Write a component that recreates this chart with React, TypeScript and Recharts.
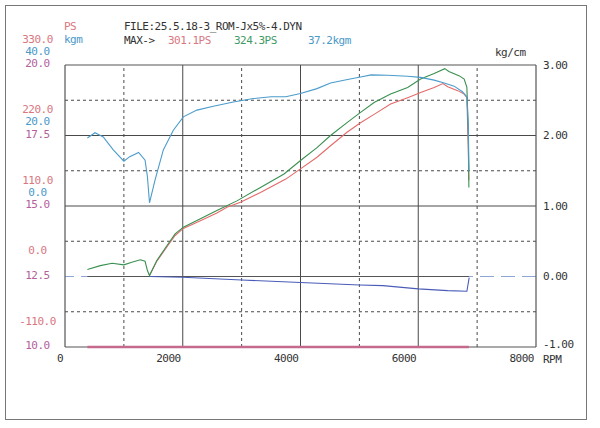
import React from 'react';
import { ComposedChart, Line, XAxis, YAxis, ReferenceLine } from 'recharts';

const FONT = '"DejaVu Sans Mono", "Liberation Mono", monospace';
const PINK = '#d9777f';
const BLUE = '#4a98c8';
const GREEN = '#3f9a66';
const PURPLE = '#b2619c';
const GRID = '#4a4a4a';

const rpmTicks = [0, 2000, 4000, 6000, 8000];
const psTicks = [-110, 0, 110, 220, 330];
const kgmTicks = [0, 20, 40];
const afrTicks = [10, 12.5, 15, 17.5, 20];
const boostTicks = [-1, 0, 1, 2, 3];

const gridRpmSolid = [2000, 4000, 6000];
const gridRpmDotted = [1000, 3000, 5000, 7000];
const gridBoostSolid = [2, 1];
const gridBoostDotted = [2.5, 1.5, 0.5, -0.5];

const greenRpm = [380, 600, 800, 1000, 1135, 1280, 1360, 1400, 1435, 1560, 1730, 1870, 2010, 2300, 2580, 2920, 3320, 3720, 4000, 4280, 4510, 4790, 5020, 5250, 5530, 5820, 6040, 6270, 6450, 6520, 6700, 6780, 6826, 6848, 6860];
const greenPs = [11, 17, 20.7, 18.2, 22.3, 26, 23.8, 9.3, 1.5, 25, 48, 66.5, 77, 90, 103, 118, 139, 160, 181, 201, 220, 240, 256, 271.5, 284.6, 295, 308, 316.7, 324.3, 320, 313, 308, 295, 232, 139];

const redRpm = [1435, 1560, 1730, 1870, 2010, 2300, 2580, 2750, 2980, 3320, 3750, 4000, 4280, 4510, 4790, 5020, 5250, 5530, 5820, 6040, 6270, 6420, 6500, 6670, 6780, 6826, 6850, 6860];
const redPs = [1.5, 24, 46, 64, 75, 87, 99, 108, 115.7, 131, 152, 168, 186, 204, 225, 240, 253, 269, 279, 287, 295, 301.1, 296, 290, 284.6, 279, 200, 150];

const kgmRpm = [380, 510, 650, 820, 1000, 1100, 1250, 1360, 1400, 1435, 1530, 1670, 1840, 2010, 2240, 2520, 2860, 3200, 3500, 3750, 4000, 4280, 4510, 4800, 5020, 5200, 5480, 5820, 6040, 6270, 6440, 6610, 6750, 6826, 6850, 6862];
const kgmValues = [19.3, 20.8, 19.6, 15.9, 12.7, 14.0, 15.2, 13.0, 8.3, 0.9, 7.4, 15.9, 21.5, 25.3, 27.2, 28.3, 29.5, 30.5, 31.0, 31.0, 31.9, 33.3, 34.9, 35.9, 36.6, 37.2, 37.1, 36.8, 36.5, 35.7, 34.9, 34.0, 32.4, 31.0, 22.5, 10];

const boostRpm = [1435, 2000, 3000, 4000, 5000, 5400, 6000, 6500, 6826, 6865];
const boostValues = [0, -0.01, -0.05, -0.085, -0.12, -0.13, -0.175, -0.2, -0.21, -0.015];

const afrRpm = [380, 6860];
const afrValues = [10, 10];

const toPoints = (xs: number[], ys: number[], key: string) =>
  xs.map((rpm, i) => ({ rpm, [key]: ys[i] }));

const greenData = toPoints(greenRpm, greenPs, 'ps');
const redData = toPoints(redRpm, redPs, 'ps');
const kgmData = toPoints(kgmRpm, kgmValues, 'kgm');
const boostData = toPoints(boostRpm, boostValues, 'boost');
const afrData = toPoints(afrRpm, afrValues, 'afr');

const txt = { fontSize: 11, fontFamily: FONT, letterSpacing: -0.5 };

const psTick = ({ y, payload }: any) => (
  <text x={37.5} y={y - 26} textAnchor="middle" dominantBaseline="central" fill={PINK} {...txt}>
    {Number(payload.value).toFixed(1)}
  </text>
);
const kgmTick = ({ y, payload }: any) => (
  <text x={37.5} y={y - 14} textAnchor="middle" dominantBaseline="central" fill={BLUE} {...txt}>
    {Number(payload.value).toFixed(1)}
  </text>
);
const afrTick = ({ y, payload }: any) => (
  <text x={37.5} y={y - 1.5} textAnchor="middle" dominantBaseline="central" fill={PURPLE} {...txt}>
    {Number(payload.value).toFixed(1)}
  </text>
);
// bottom label sits a little higher so it clears "RPM"
const boostTick = ({ y, payload }: any) => (
  <text x={543} y={payload.value === -1 ? y - 3 : y} textAnchor="start" dominantBaseline="central" fill="#333" {...txt}>
    {Number(payload.value).toFixed(2)}
  </text>
);
const rpmTick = ({ x, payload }: any) => (
  <text x={x - 2} y={358} textAnchor="end" dominantBaseline="central" fill="#333" {...txt}>
    {payload.value}
  </text>
);

export default function App() {
  return (
    <div style={{ position: 'absolute', left: 0, top: 0, width: 600, height: 428, background: '#fff' }}>
      <div style={{ position: 'absolute', left: 5, top: 5, width: 580, height: 413, border: '1px solid #777' }} />
      <ComposedChart
        width={600}
        height={428}
        margin={{ top: 65, right: 0, bottom: 0, left: 0 }}
        style={{ position: 'absolute', left: 0, top: 0 }}
      >
        <XAxis
          xAxisId="rpm"
          dataKey="rpm"
          type="number"
          domain={[0, 8000]}
          ticks={rpmTicks}
          interval={0}
          height={81}
          axisLine={false}
          tickLine={false}
          tick={rpmTick}
          allowDataOverflow
        />
        <YAxis yAxisId="ps" type="number" domain={[-110, 330]} ticks={psTicks} interval={0} width={25} axisLine={false} tickLine={false} tick={psTick} />
        <YAxis yAxisId="kgm" type="number" domain={[-40, 40]} ticks={kgmTicks} interval={0} width={20} axisLine={false} tickLine={false} tick={kgmTick} />
        <YAxis yAxisId="afr" type="number" domain={[10, 20]} ticks={afrTicks} interval={0} width={20} axisLine={false} tickLine={false} tick={afrTick} />
        <YAxis yAxisId="boost" orientation="right" type="number" domain={[-1, 3]} ticks={boostTicks} interval={0} width={64} axisLine={false} tickLine={false} tick={boostTick} />

        {gridBoostDotted.map((v) => (
          <ReferenceLine key={`hd${v}`} xAxisId="rpm" yAxisId="boost" y={v} stroke={GRID} strokeDasharray="3 3" />
        ))}
        {gridRpmDotted.map((v) => (
          <ReferenceLine key={`vd${v}`} xAxisId="rpm" yAxisId="boost" x={v} stroke={GRID} strokeDasharray="3 3" />
        ))}
        {gridBoostSolid.map((v) => (
          <ReferenceLine key={`hs${v}`} xAxisId="rpm" yAxisId="boost" y={v} stroke={GRID} />
        ))}
        {gridRpmSolid.map((v) => (
          <ReferenceLine key={`vs${v}`} xAxisId="rpm" yAxisId="boost" x={v} stroke={GRID} />
        ))}
        <ReferenceLine xAxisId="rpm" yAxisId="boost" y={0} stroke="#8ea6d6" strokeWidth={1.2} strokeDasharray="14 7" />
        <ReferenceLine
          xAxisId="rpm"
          yAxisId="boost"
          segment={[{ x: 380, y: 0 }, { x: 6860, y: 0 }]}
          stroke="#555"
        />
        <ReferenceLine xAxisId="rpm" yAxisId="boost" y={3} stroke="#555" strokeWidth={1.2} />
        <ReferenceLine xAxisId="rpm" yAxisId="boost" y={-1} stroke="#555" strokeWidth={1.2} />
        <ReferenceLine xAxisId="rpm" yAxisId="boost" x={0} stroke="#555" strokeWidth={1.2} />
        <ReferenceLine xAxisId="rpm" yAxisId="boost" x={8000} stroke="#555" strokeWidth={1.2} />

        <Line xAxisId="rpm" yAxisId="afr" data={afrData} dataKey="afr" stroke="#c46a8c" strokeWidth={2.5} dot={false} isAnimationActive={false} />
        <Line xAxisId="rpm" yAxisId="boost" data={boostData} dataKey="boost" stroke="#4a5cb8" strokeWidth={1.1} dot={false} isAnimationActive={false} />
        <Line xAxisId="rpm" yAxisId="ps" data={redData} dataKey="ps" stroke="#e46a6a" strokeWidth={1.1} dot={false} isAnimationActive={false} />
        <Line xAxisId="rpm" yAxisId="ps" data={greenData} dataKey="ps" stroke="#3a9050" strokeWidth={1.1} dot={false} isAnimationActive={false} />
        <Line xAxisId="rpm" yAxisId="kgm" data={kgmData} dataKey="kgm" stroke="#4b9ccc" strokeWidth={1.1} dot={false} isAnimationActive={false} />
      </ComposedChart>
      <svg width={600} height={428} style={{ position: 'absolute', left: 0, top: 0, pointerEvents: 'none' }}>
        <text x={64} y={26} dominantBaseline="central" fill={PINK} {...txt}>PS</text>
        <text x={64} y={39.5} dominantBaseline="central" fill={BLUE} {...txt}>kgm</text>
        <text x={124} y={26} dominantBaseline="central" fill="#333" {...txt}>FILE:25.5.18-3_ROM-Jx5%-4.DYN</text>
        <text x={124} y={40} dominantBaseline="central" fill="#333" {...txt}>MAX-&gt;</text>
        <text x={168} y={40} dominantBaseline="central" fill={PINK} {...txt}>301.1PS</text>
        <text x={234} y={40} dominantBaseline="central" fill={GREEN} {...txt}>324.3PS</text>
        <text x={308} y={40} dominantBaseline="central" fill={BLUE} {...txt}>37.2kgm</text>
        <text x={495} y={52} dominantBaseline="central" fill="#333" {...txt}>kg/cm</text>
        <text x={543} y={359} dominantBaseline="central" fill="#333" {...txt}>RPM</text>
      </svg>
    </div>
  );
}
